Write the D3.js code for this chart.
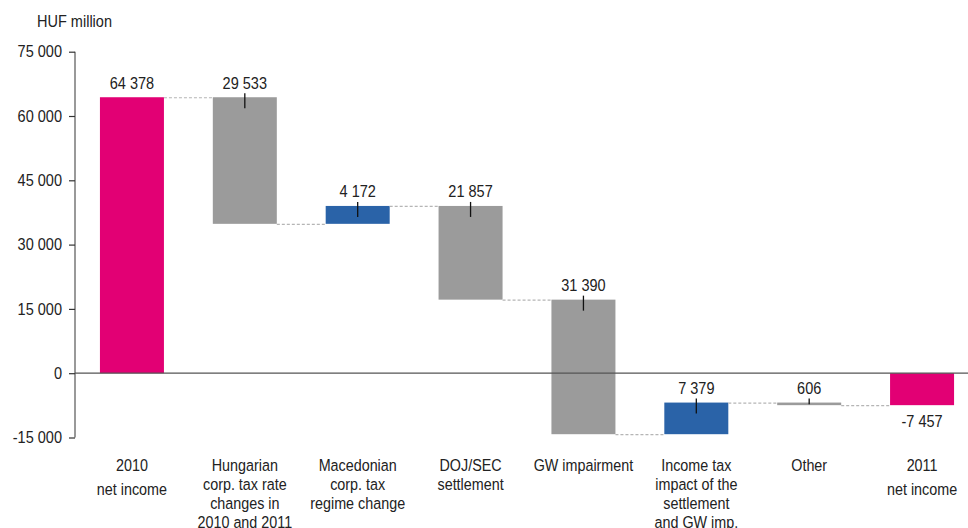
<!DOCTYPE html>
<html>
<head>
<meta charset="utf-8">
<script src="https://cdn.jsdelivr.net/npm/d3@7/dist/d3.min.js"></script>
<style>
  html, body { margin: 0; padding: 0; background: #fff; }
  svg { display: block; }
  text { font-family: "Liberation Sans", Arial, sans-serif; fill: #222; }
</style>
</head>
<body>
<svg id="chart" width="968" height="528"></svg>
<script>
const categories = [
  ["2010", "net income"],
  ["Hungarian", "corp. tax rate", "changes in", "2010 and 2011"],
  ["Macedonian", "corp. tax", "regime change"],
  ["DOJ/SEC", "settlement"],
  ["GW impairment"],
  ["Income tax", "impact of the", "settlement", "and GW imp."],
  ["Other"],
  ["2011", "net income"]
];
const changes = [64378, -29533, 4172, -21857, -31390, 7379, -606, -7457];
const kinds = ["total", "delta", "delta", "delta", "delta", "delta", "delta", "total"];
const valueLabels = ["64 378", "29 533", "4 172", "21 857", "31 390", "7 379", "606", "-7 457"];
const yTicks = [-15000, 0, 15000, 30000, 45000, 60000, 75000];
const yTickLabels = ["-15 000", "0", "15 000", "30 000", "45 000", "60 000", "75 000"];
const unitLabel = "HUF million";

const colors = { total: "#e20074", down: "#9b9b9b", up: "#2a63a8" };
const SX = 0.88; // condensed look

const svg = d3.select("#chart");
const x = d3.scaleBand().domain(d3.range(categories.length))
  .range([75.5, 978.5]).paddingInner(0.433).paddingOuter(0.2165);
const y = d3.scaleLinear().domain([-15000, 75000]).range([437.5, 51.7]);

let running = 0;
const bars = changes.map((v, i) => {
  let start, end;
  if (kinds[i] === "total") {
    start = 0; end = (i === 0) ? v : running;
    if (i === 0) running = v;
  } else {
    start = running; end = running + v; running = end;
  }
  const type = kinds[i] === "total" ? "total" : (v >= 0 ? "up" : "down");
  return { i, start, end, type, label: valueLabels[i] };
});

const axisG = svg.append("g").attr("transform", "translate(75,0)");
const yAxis = d3.axisLeft(y).tickValues(yTicks).tickSize(6).tickPadding(7)
  .tickFormat((d, i) => yTickLabels[i]);
axisG.call(yAxis);
axisG.select(".domain").attr("stroke", "#555").attr("stroke-width", 1.2).attr("d", `M0,${y(-15000)}V${y(75000)}`);
axisG.selectAll(".tick line").attr("stroke", "#333").attr("stroke-width", 1.2);
axisG.selectAll(".tick text").attr("font-size", 16.5).attr("fill", "#222")
  .attr("x", -13 / SX).attr("transform", `scale(${SX},1)`)
  .style("font-family", '"Liberation Sans", Arial, sans-serif');

svg.append("text").attr("transform", `translate(37,27) scale(${SX},1)`).attr("font-size", 16.5).text(unitLabel);

svg.append("g").selectAll("rect").data(bars).join("rect")
  .attr("x", d => x(d.i))
  .attr("width", x.bandwidth())
  .attr("y", d => y(Math.max(d.start, d.end)))
  .attr("height", d => Math.abs(y(d.start) - y(d.end)))
  .attr("fill", d => colors[d.type]);

svg.append("line").attr("x1", 75).attr("x2", 968).attr("y1", y(0)).attr("y2", y(0))
  .attr("stroke", "#555").attr("stroke-width", 1.2);

const conns = bars.slice(0, -1).map(d => ({ x1: x(d.i) + x.bandwidth(), x2: x(d.i + 1), level: d.end }));
svg.append("g").selectAll("line").data(conns).join("line")
  .attr("x1", d => d.x1).attr("x2", d => d.x2)
  .attr("y1", d => y(d.level) + 0.5).attr("y2", d => y(d.level) + 0.5)
  .attr("stroke", "#b5b5b5").attr("stroke-width", 1.2).attr("stroke-dasharray", "3,2");

svg.append("g").selectAll("line").data(bars.filter(d => d.type !== "total")).join("line")
  .attr("x1", d => x(d.i) + x.bandwidth() / 2).attr("x2", d => x(d.i) + x.bandwidth() / 2)
  .attr("y1", d => y(Math.max(d.start, d.end)) - 4)
  .attr("y2", d => Math.min(y(Math.max(d.start, d.end)) + 11, y(Math.min(d.start, d.end)) - 1))
  .attr("stroke", "#111").attr("stroke-width", 1.3);

svg.append("g").selectAll("text").data(bars).join("text")
  .attr("transform", d => {
    const tx = x(d.i) + x.bandwidth() / 2;
    const ty = (d.type === "total" && d.end < 0) ? y(d.end) + 22 : y(Math.max(d.start, d.end)) - 8.5;
    return `translate(${tx},${ty}) scale(${SX},1)`;
  })
  .attr("text-anchor", "middle").attr("font-size", 16.5)
  .text(d => d.label);

const catG = svg.append("g").selectAll("text").data(categories).join("text")
  .attr("text-anchor", "middle").attr("font-size", 16.3)
  .attr("transform", (d, i) => `translate(${x(i) + x.bandwidth() / 2},0) scale(${SX},1)`);
catG.each(function(lines, i) {
  const step = kinds[i] === "total" ? 24 : 19;
  d3.select(this).selectAll("tspan").data(lines).join("tspan")
    .attr("x", 0).attr("y", (l, j) => 471 + j * step).text(l => l);
});
</script>
</body>
</html>
